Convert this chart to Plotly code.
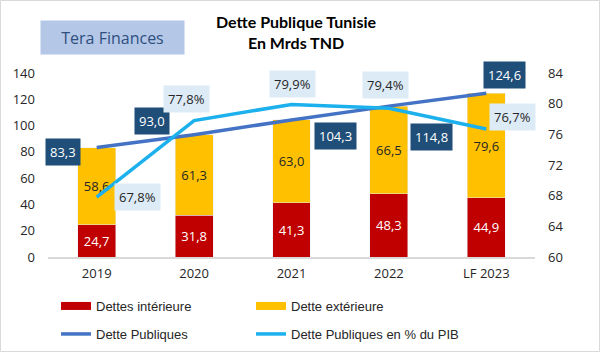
import plotly.graph_objects as go

categories = ["2019", "2020", "2021", "2022", "LF 2023"]
dettes_interieure = [24.7, 31.8, 41.3, 48.3, 44.9]
dette_exterieure = [58.6, 61.3, 63.0, 66.5, 79.6]
dette_publiques = [83.3, 93.0, 104.3, 114.8, 124.6]
dette_pib_pct = [67.8, 77.8, 79.9, 79.4, 76.7]
left_ticks = [0, 20, 40, 60, 80, 100, 120, 140]
right_ticks = [60, 64, 68, 72, 76, 80, 84]

# label offsets (pixels) for manually placed data labels
pub_shift = [(-34, -4), (-42, 14), (44, -16), (43, -31), (18, 18)]
pib_shift = [(41, 0), (-8, 22), (1, 20), (-3, 23), (26, 12)]

RED = "#C00000"
YELLOW = "#FFC000"
BLUE = "#4472C4"
CYAN = "#1CB0EC"
NAVY = "#1F4E79"
PALE = "#DDEBF7"
TICKFONT = dict(family="Open Sans", size=13, color="#262626")
LEGFONT = dict(family="Liberation Sans", size=13, color="#262626")

# plot area in pixels
L, R, T, B = 48, 65, 73, 95
PW, PH = 600 - L - R, 352 - T - B


def px(xp):
    return (xp - L) / PW


def py(yp):
    return (352 - B - yp) / PH


def fmt(v):
    return f"{v:.1f}".replace(".", ",")


fig = go.Figure()
fig.add_trace(go.Bar(
    x=categories, y=dettes_interieure, name="Dettes intérieure",
    marker_color=RED, texttemplate="%{y:.1f}", textposition="inside",
    insidetextanchor="middle", textangle=0,
    textfont=dict(family="Open Sans", size=13, color="white"),
    showlegend=False, hoverinfo="skip"))
fig.add_trace(go.Bar(
    x=categories, y=dette_exterieure, name="Dette extérieure",
    marker_color=YELLOW, texttemplate="%{y:.1f}", textposition="inside",
    insidetextanchor="middle", textangle=0,
    textfont=dict(family="Open Sans", size=13, color="#262626"),
    showlegend=False, hoverinfo="skip"))
# legend swatches for the bar series (wide rectangles like the original)
fig.add_trace(go.Scatter(
    x=[None], y=[None], name="Dettes intérieure", mode="lines",
    line=dict(color=RED, width=8), legend="legend", showlegend=True))
fig.add_trace(go.Scatter(
    x=[None], y=[None], name="Dette extérieure", mode="lines",
    line=dict(color=YELLOW, width=8), legend="legend2", showlegend=True))
fig.add_trace(go.Scatter(
    x=categories, y=dette_publiques, name="Dette Publiques", mode="lines",
    line=dict(color=BLUE, width=3.5), legend="legend3", showlegend=True))
fig.add_trace(go.Scatter(
    x=categories, y=dette_pib_pct, name="Dette Publiques en % du PIB", mode="lines",
    line=dict(color=CYAN, width=3.5), yaxis="y2", legend="legend4", showlegend=True))

annotations = []
for i, (v, (dx, dy)) in enumerate(zip(dette_publiques, pub_shift)):
    annotations.append(dict(
        x=i, y=v, xref="x", yref="y", text=fmt(v), showarrow=False,
        xshift=dx, yshift=dy, bgcolor=NAVY, borderpad=4,
        font=dict(family="Open Sans", size=13, color="white")))
for i, (v, (dx, dy)) in enumerate(zip(dette_pib_pct, pib_shift)):
    annotations.append(dict(
        x=i, y=v, xref="x", yref="y2", text=fmt(v) + "%", showarrow=False,
        xshift=dx, yshift=dy, bgcolor=PALE, borderpad=4,
        font=dict(family="Open Sans", size=13, color="#262626")))
annotations.append(dict(
    x=px(112), y=py(37), xref="paper", yref="paper", xanchor="center", yanchor="middle",
    text="Tera Finances", showarrow=False, bgcolor="#B4C7E7", width=141, height=31,
    font=dict(family="Open Sans", size=16, color="#2F4F7F")))
annotations.append(dict(
    x=px(296), y=py(10), xref="paper", yref="paper", xanchor="center", yanchor="top",
    text="<b>Dette Publique Tunisie<br>En Mrds TND</b>", showarrow=False,
    font=dict(family="Lato", size=16, color="black")))

leg_common = dict(orientation="h", xanchor="left", yanchor="middle",
                  font=LEGFONT, itemwidth=30, bgcolor="rgba(0,0,0,0)")

fig.update_layout(
    width=600, height=352,
    margin=dict(l=L, r=R, t=T, b=B, autoexpand=False),
    paper_bgcolor="white", plot_bgcolor="white",
    separators=", ",
    showlegend=True,
    barmode="stack", bargap=0.61,
    xaxis=dict(type="category", range=[-0.5, 4.5], showgrid=False, showline=True,
               linecolor="#D9D9D9", linewidth=1.5, ticks="", tickfont=TICKFONT,
               ticklabelstandoff=4),
    yaxis=dict(range=[0, 140], tickvals=left_ticks, showgrid=False, zeroline=False,
               showline=False, tickfont=TICKFONT, ticklabelstandoff=12),
    yaxis2=dict(range=[60, 84], tickvals=right_ticks, ticksuffix="%", overlaying="y",
                side="right", showgrid=False, zeroline=False, showline=False,
                tickfont=TICKFONT, ticklabelstandoff=12),
    legend=dict(x=px(56), y=py(306), **leg_common),
    legend2=dict(x=px(251), y=py(306), **leg_common),
    legend3=dict(x=px(56), y=py(334), **leg_common),
    legend4=dict(x=px(251), y=py(334), **leg_common),
    annotations=annotations,
    shapes=[dict(type="rect", xref="paper", yref="paper",
                 x0=px(0.5), x1=px(599.5), y0=py(351.5), y1=py(0.5),
                 line=dict(color="#D9D9D9", width=1), layer="below")],
)

fig.write_html("out.html")
